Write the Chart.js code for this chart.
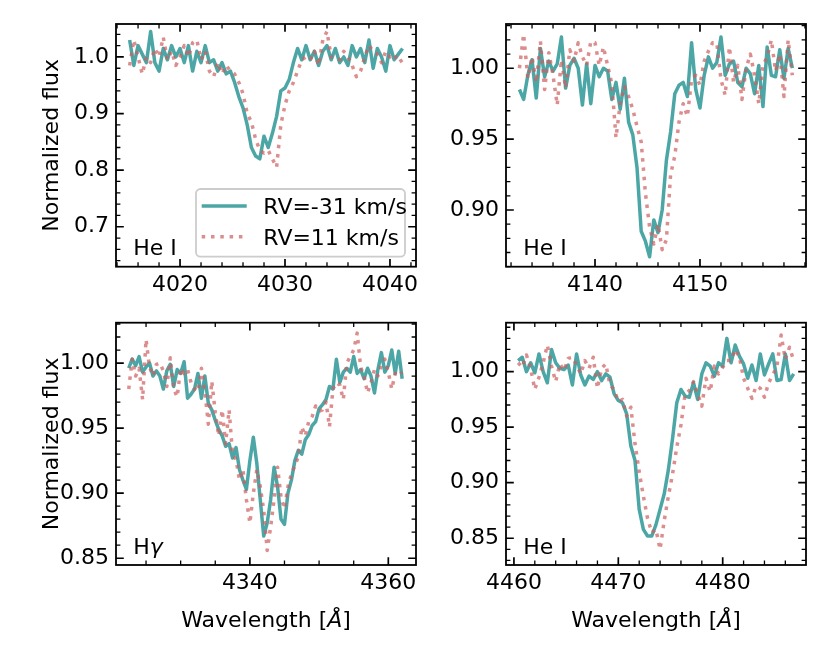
<!DOCTYPE html>
<html lang="en">
<head>
<meta charset="UTF-8">
<title>He I and Hγ line profiles at two radial velocities</title>
<script src="https://cdn.jsdelivr.net/npm/chart.js@4.4.1/dist/chart.umd.min.js"></script>
<style>
  html, body { margin: 0; padding: 0; background: #fff; }
  #figure { position: relative; width: 830px; height: 664px; overflow: hidden; background: #fff; }
  .panel { position: absolute; }
</style>
</head>
<body>
<div id="figure">
  <div class="panel" id="w1"><canvas id="c1"></canvas></div>
  <div class="panel" id="w2"><canvas id="c2"></canvas></div>
  <div class="panel" id="w3"><canvas id="c3"></canvas></div>
  <div class="panel" id="w4"><canvas id="c4"></canvas></div>
</div>
<script>
// ---- data ----
// He I 4026
const WL_4026 = [4015.2, 4015.6, 4016.0, 4016.4, 4016.8, 4017.2, 4017.6, 4018.0, 4018.4, 4018.8,
  4019.2, 4019.6, 4020.0, 4020.4, 4020.8, 4021.2, 4021.6, 4022.0, 4022.4, 4022.8,
  4023.2, 4023.6, 4024.0, 4024.4, 4024.8, 4025.2, 4025.6, 4026.0, 4026.4, 4026.8,
  4027.2, 4027.6, 4028.0, 4028.4, 4028.8, 4029.2, 4029.6, 4030.0, 4030.4, 4030.8,
  4031.2, 4031.6, 4032.0, 4032.4, 4032.8, 4033.2, 4033.6, 4034.0, 4034.4, 4034.8,
  4035.2, 4035.6, 4036.0, 4036.4, 4036.8, 4037.2, 4037.6, 4038.0, 4038.4, 4038.8,
  4039.2, 4039.6, 4040.0, 4040.4, 4040.8, 4041.2];
const RVM31_4026 = [1.030, 0.985, 1.020, 1.005, 0.990, 1.045, 0.990, 0.975, 1.015, 0.995,
  1.020, 1.000, 1.015, 0.990, 1.020, 0.975, 1.010, 0.990, 1.020, 0.990,
  0.995, 0.975, 0.990, 0.970, 0.975, 0.955, 0.930, 0.910, 0.880, 0.840,
  0.825, 0.820, 0.860, 0.840, 0.865, 0.895, 0.940, 0.945, 0.960, 0.990,
  1.015, 0.995, 1.020, 0.995, 1.010, 0.985, 1.010, 1.020, 0.995, 1.015,
  0.990, 1.000, 0.985, 1.020, 1.000, 1.015, 0.990, 1.030, 0.980, 1.015,
  1.000, 0.975, 1.020, 0.995, 1.005, 1.015];
const RVP11_4026 = [0.985, 1.030, 1.000, 0.970, 1.000, 0.990, 1.015, 1.000, 1.035, 0.995,
  1.010, 0.985, 1.000, 1.020, 1.000, 1.025, 1.030, 0.995, 1.010, 0.975,
  0.965, 0.990, 0.970, 0.985, 0.975, 0.970, 0.955, 0.935, 0.900, 0.885,
  0.855, 0.835, 0.830, 0.835, 0.820, 0.805, 0.880, 0.915, 0.940, 0.955,
  0.975, 0.995, 1.000, 0.995, 1.010, 0.985, 1.030, 1.045, 1.000, 1.000,
  0.995, 1.010, 1.000, 0.985, 0.965, 0.975, 1.000, 1.020, 1.010, 1.005,
  0.990, 1.010, 1.000, 1.005, 0.990, 0.995];

// He I 4144
const WL_4144 = [4132.8, 4133.2, 4133.6, 4134.0, 4134.4, 4134.8, 4135.2, 4135.6, 4136.0, 4136.4,
  4136.8, 4137.2, 4137.6, 4138.0, 4138.4, 4138.8, 4139.2, 4139.6, 4140.0, 4140.4,
  4140.8, 4141.2, 4141.6, 4142.0, 4142.4, 4142.8, 4143.2, 4143.6, 4144.0, 4144.4,
  4144.8, 4145.2, 4145.6, 4146.0, 4146.4, 4146.8, 4147.2, 4147.6, 4148.0, 4148.4,
  4148.8, 4149.2, 4149.6, 4150.0, 4150.4, 4150.8, 4151.2, 4151.6, 4152.0, 4152.4,
  4152.8, 4153.2, 4153.6, 4154.0, 4154.4, 4154.8, 4155.2, 4155.6, 4156.0, 4156.4,
  4156.8, 4157.2, 4157.6, 4158.0, 4158.4, 4158.8];
const RVM31_4144 = [0.985, 0.978, 0.995, 1.006, 0.979, 1.014, 0.994, 1.005, 0.998, 1.003,
  1.022, 0.986, 1.002, 1.007, 1.000, 0.974, 1.003, 0.975, 1.002, 0.994,
  1.000, 0.998, 0.978, 0.990, 0.971, 0.993, 0.962, 0.953, 0.930, 0.885,
  0.878, 0.867, 0.893, 0.884, 0.900, 0.935, 0.955, 0.982, 0.988, 0.990,
  0.980, 1.018, 0.985, 0.972, 0.995, 1.008, 1.000, 1.004, 1.022, 0.995,
  1.003, 1.005, 0.990, 0.987, 1.000, 0.996, 0.982, 1.002, 0.973, 1.015,
  0.995, 0.994, 1.013, 0.993, 1.014, 1.000];
const RVP11_4144 = [1.000, 1.024, 0.993, 1.008, 0.990, 1.019, 0.985, 1.011, 0.995, 0.974,
  1.006, 0.986, 1.013, 1.005, 1.018, 1.008, 1.002, 1.019, 1.018, 1.002,
  1.015, 1.002, 0.989, 0.951, 0.975, 0.987, 0.980, 0.971, 0.959, 0.948,
  0.912, 0.888, 0.876, 0.890, 0.872, 0.879, 0.925, 0.938, 0.962, 0.975,
  0.966, 0.992, 0.995, 0.988, 1.005, 1.012, 1.018, 1.018, 0.992, 0.981,
  1.015, 0.990, 1.002, 0.978, 1.000, 1.010, 0.995, 0.975, 1.002, 1.008,
  1.020, 0.998, 1.010, 0.980, 1.020, 0.995];

// H gamma
const WL_4340 = [4322.5, 4323.0, 4323.5, 4324.0, 4324.5, 4325.0, 4325.5, 4326.0, 4326.5, 4327.0,
  4327.5, 4328.0, 4328.5, 4329.0, 4329.5, 4330.0, 4330.5, 4331.0, 4331.5, 4332.0,
  4332.5, 4333.0, 4333.5, 4334.0, 4334.5, 4335.0, 4335.5, 4336.0, 4336.5, 4337.0,
  4337.5, 4338.0, 4338.5, 4339.0, 4339.5, 4340.0, 4340.5, 4341.0, 4341.5, 4342.0,
  4342.5, 4343.0, 4343.5, 4344.0, 4344.5, 4345.0, 4345.5, 4346.0, 4346.5, 4347.0,
  4347.5, 4348.0, 4348.5, 4349.0, 4349.5, 4350.0, 4350.5, 4351.0, 4351.5, 4352.0,
  4352.5, 4353.0, 4353.5, 4354.0, 4354.5, 4355.0, 4355.5, 4356.0, 4356.5, 4357.0,
  4357.5, 4358.0, 4358.5, 4359.0, 4359.5, 4360.0, 4360.5, 4361.0, 4361.5, 4362.0];
const RVM31_4340 = [0.996, 1.003, 0.998, 1.005, 0.993, 0.997, 1.000, 0.990, 0.994, 0.990,
  0.980, 0.994, 0.999, 0.982, 0.995, 0.992, 1.001, 0.973, 0.976, 0.980,
  0.992, 0.973, 0.990, 0.969, 0.964, 0.956, 0.949, 0.944, 0.936, 0.938,
  0.927, 0.935, 0.918, 0.910, 0.903, 0.925, 0.943, 0.923, 0.895, 0.867,
  0.877, 0.895, 0.920, 0.905, 0.880, 0.876, 0.900, 0.910, 0.925, 0.933,
  0.930, 0.941, 0.945, 0.952, 0.955, 0.965, 0.968, 0.972, 0.982, 0.980,
  1.003, 0.985, 0.993, 0.996, 0.993, 1.005, 0.992, 0.995, 0.988, 0.996,
  0.990, 0.977, 0.995, 1.008, 0.993, 0.998, 1.010, 0.992, 1.009, 0.988];
const RVP11_4340 = [0.980, 1.003, 0.990, 0.996, 0.972, 1.018, 0.997, 0.990, 0.999, 1.000,
  0.994, 0.982, 1.004, 0.980, 0.974, 0.996, 0.992, 0.995, 0.985, 0.980,
  0.978, 0.996, 0.978, 0.953, 0.986, 0.962, 0.944, 0.964, 0.938, 0.964,
  0.930, 0.926, 0.910, 0.918, 0.895, 0.877, 0.900, 0.918, 0.905, 0.887,
  0.856, 0.874, 0.895, 0.920, 0.897, 0.888, 0.905, 0.915, 0.921, 0.928,
  0.951, 0.944, 0.955, 0.959, 0.967, 0.963, 0.964, 0.970, 0.951, 0.980,
  0.985, 0.983, 0.972, 1.000, 1.005, 1.010, 1.023, 0.997, 0.990, 0.977,
  0.985, 0.995, 0.990, 0.998, 1.003, 0.993, 0.980, 0.992, 0.990, 0.993];

// He I 4471
const WL_4471 = [4460.4, 4460.8, 4461.2, 4461.6, 4462.0, 4462.4, 4462.8, 4463.2, 4463.6, 4464.0,
  4464.4, 4464.8, 4465.2, 4465.6, 4466.0, 4466.4, 4466.8, 4467.2, 4467.6, 4468.0,
  4468.4, 4468.8, 4469.2, 4469.6, 4470.0, 4470.4, 4470.8, 4471.2, 4471.6, 4472.0,
  4472.4, 4472.8, 4473.2, 4473.6, 4474.0, 4474.4, 4474.8, 4475.2, 4475.6, 4476.0,
  4476.4, 4476.8, 4477.2, 4477.6, 4478.0, 4478.4, 4478.8, 4479.2, 4479.6, 4480.0,
  4480.4, 4480.8, 4481.2, 4481.6, 4482.0, 4482.4, 4482.8, 4483.2, 4483.6, 4484.0,
  4484.4, 4484.8, 4485.2, 4485.6, 4486.0, 4486.4, 4486.8];
const RVM31_4471 = [1.010, 1.013, 1.000, 1.008, 0.999, 1.016, 1.000, 0.990, 1.020, 1.008,
  1.003, 1.002, 1.006, 0.988, 1.016, 0.997, 0.988, 0.996, 0.993, 1.000,
  0.992, 0.998, 0.995, 0.980, 0.974, 0.972, 0.962, 0.933, 0.920, 0.876,
  0.858, 0.852, 0.852, 0.862, 0.876, 0.890, 0.912, 0.940, 0.972, 0.984,
  0.978, 0.977, 0.990, 0.975, 0.998, 1.008, 1.005, 0.996, 1.008, 1.005,
  1.030, 1.008, 1.024, 1.014, 1.007, 0.994, 1.006, 0.992, 1.016, 0.997,
  1.007, 1.016, 0.992, 0.993, 1.016, 0.992, 0.998];
const RVP11_4471 = [1.008, 1.004, 1.015, 1.003, 0.984, 0.995, 1.008, 1.024, 1.005, 0.991,
  1.007, 1.001, 1.012, 1.013, 1.006, 0.998, 1.010, 1.003, 1.013, 0.985,
  1.003, 1.007, 0.988, 0.984, 0.973, 0.975, 0.960, 0.968, 0.935, 0.910,
  0.888, 0.868, 0.855, 0.858, 0.840, 0.866, 0.888, 0.908, 0.932, 0.952,
  0.980, 0.983, 0.991, 0.980, 0.969, 0.994, 0.982, 1.005, 0.998, 1.004,
  1.010, 1.010, 1.020, 1.013, 0.994, 0.985, 0.976, 0.987, 0.985, 0.977,
  0.990, 0.997, 1.005, 1.033, 1.011, 1.022, 1.010];

// tick values and labels
const XT_4026 = [4020, 4030, 4040];
const XL_4026 = ['4020', '4030', '4040'];
const XT_4144 = [4140, 4150];
const XL_4144 = ['4140', '4150'];
const XT_4340 = [4340, 4360];
const XL_4340 = ['4340', '4360'];
const XT_4471 = [4460, 4470, 4480];
const XL_4471 = ['4460', '4470', '4480'];
const YT_4026 = [0.7, 0.8, 0.9, 1.0];
const YL_4026 = ['0.7', '0.8', '0.9', '1.0'];
const YT_4144 = [0.90, 0.95, 1.00];
const YL_4144 = ['0.90', '0.95', '1.00'];
const YT_LOW = [0.85, 0.90, 0.95, 1.00];
const YL_LOW = ['0.85', '0.90', '0.95', '1.00'];

const SERIES_NAMES = ['RV=-31 km/s', 'RV=11 km/s'];

// ---- styling ----
const TEAL = 'rgba(0,128,128,0.7)';
const PINK = 'rgba(205,92,92,0.7)';
const LW = 3.5;
const DOTS = [3.5, 5.8];
const FONT = "'DejaVu Sans', sans-serif";
const FS = 22;
const YW = 60;   // room for y tick labels
const XH = 30;   // room for x tick labels

Chart.defaults.font.family = FONT;
Chart.defaults.font.size = FS;
Chart.defaults.color = '#000';

const panels = [
  { id: 'c1', wrap: 'w1', box: [0, 0, 440, 300], frame: [116, 24, 416, 266.7],
    wl: WL_4026, a: RVM31_4026, b: RVP11_4026,
    x: [4013.9, 4042.48], xt: XT_4026, xl: XL_4026, xm: 2,
    y: [0.6294, 1.0582], yt: YT_4026, yl: YL_4026, ym: 0.02,
    note: [{ t: 'He I' }], ylabel: true, xlabel: false, legend: true },
  { id: 'c2', wrap: 'w2', box: [440, 0, 390, 300], frame: [506, 24, 806, 266.7],
    wl: WL_4144, a: RVM31_4144, b: RVP11_4144,
    x: [4131.52, 4160.1], xt: XT_4144, xl: XL_4144, xm: 2,
    y: [0.8600, 1.0312], yt: YT_4144, yl: YL_4144, ym: 0.01,
    note: [{ t: 'He I' }], ylabel: false, xlabel: false, legend: false },
  { id: 'c3', wrap: 'w3', box: [0, 300, 440, 364], frame: [116, 322.7, 416, 565],
    wl: WL_4340, a: RVM31_4340, b: RVP11_4340,
    x: [4320.66, 4364.0], xt: XT_4340, xl: XL_4340, xm: 5,
    y: [0.8448, 1.0310], yt: YT_LOW, yl: YL_LOW, ym: 0.01,
    note: [{ t: 'H' }, { t: 'γ', it: true }], ylabel: true, xlabel: true, legend: false },
  { id: 'c4', wrap: 'w4', box: [440, 300, 390, 364], frame: [506, 322.7, 806, 565],
    wl: WL_4471, a: RVM31_4471, b: RVP11_4471,
    x: [4459.24, 4487.98], xt: XT_4471, xl: XL_4471, xm: 2,
    y: [0.8259, 1.0441], yt: YT_LOW, yl: YL_LOW, ym: 0.01,
    note: [{ t: 'He I' }], ylabel: false, xlabel: true, legend: false }
];

function minorValues(min, max, step, majors) {
  const out = [];
  for (let k = Math.ceil(min / step - 1e-9); k * step <= max + 1e-9; k++) {
    const v = k * step;
    if (!majors.some(m => Math.abs(m - v) < step / 10)) out.push(v);
  }
  return out;
}

function drawTicks(ctx, area, scale, values, len, horizontal) {
  ctx.beginPath();
  values.forEach(v => {
    const p = scale.getPixelForValue(v);
    if (horizontal) {
      ctx.moveTo(p, area.bottom); ctx.lineTo(p, area.bottom - len);
      ctx.moveTo(p, area.top); ctx.lineTo(p, area.top + len);
    } else {
      ctx.moveTo(area.left, p); ctx.lineTo(area.left + len, p);
      ctx.moveTo(area.right, p); ctx.lineTo(area.right - len, p);
    }
  });
  ctx.stroke();
}

// draws text made of regular / italic pieces; align 'left' or 'center'
function drawRich(ctx, parts, x, y, align) {
  const fontOf = p => (p.it ? 'italic ' : '') + FS + 'px ' + FONT;
  let total = 0;
  parts.forEach(p => { ctx.font = fontOf(p); total += ctx.measureText(p.t).width; });
  let cx = align === 'center' ? x - total / 2 : x;
  ctx.textAlign = 'left';
  ctx.textBaseline = 'alphabetic';
  parts.forEach(p => {
    ctx.font = fontOf(p);
    ctx.fillText(p.t, cx, y);
    cx += ctx.measureText(p.t).width;
  });
}

function decoPlugin(p) {
  const ox = p.box[0], oy = p.box[1];
  return {
    id: 'deco',
    beforeDatasetsDraw(chart) {
      const { ctx, chartArea: area, scales } = chart;
      ctx.save();
      ctx.strokeStyle = '#000';
      ctx.lineWidth = 1.7;
      drawTicks(ctx, area, scales.x, p.xt, 7.8, true);
      drawTicks(ctx, area, scales.y, p.yt, 7.8, false);
      ctx.lineWidth = 1.3;
      drawTicks(ctx, area, scales.x, minorValues(p.x[0], p.x[1], p.xm, p.xt), 4.4, true);
      drawTicks(ctx, area, scales.y, minorValues(p.y[0], p.y[1], p.ym, p.yt), 4.4, false);
      ctx.restore();
    },
    afterDatasetsDraw(chart) {
      const { ctx, chartArea: area } = chart;
      ctx.save();
      ctx.strokeStyle = '#000';
      ctx.lineWidth = 1.8;
      ctx.strokeRect(area.left, area.top, area.right - area.left, area.bottom - area.top);
      ctx.restore();
    },
    afterDraw(chart) {
      const { ctx, chartArea: area } = chart;
      ctx.save();
      ctx.fillStyle = '#000';
      drawRich(ctx, p.note, area.left + 17.3, area.bottom - 11.5, 'left');
      if (p.xlabel) {
        drawRich(ctx, [{ t: 'Wavelength [' }, { t: 'Å', it: true }, { t: ']' }],
          (area.left + area.right) / 2, 626.5 - oy, 'center');
      }
      if (p.ylabel) {
        ctx.save();
        ctx.translate(58.3 - ox, (area.top + area.bottom) / 2);
        ctx.rotate(-Math.PI / 2);
        drawRich(ctx, [{ t: 'Normalized flux' }], 0, 0, 'center');
        ctx.restore();
      }
      if (p.legend) {
        const ds = chart.data.datasets;
        ctx.beginPath();
        ctx.roundRect(196 - ox, 189 - oy, 209, 67.7, 4.4);
        ctx.fillStyle = 'rgba(255,255,255,0.8)';
        ctx.fill();
        ctx.strokeStyle = '#cccccc';
        ctx.lineWidth = 1.8;
        ctx.stroke();
        const rows = [{ d: ds[1], y: 206 }, { d: ds[0], y: 236.7 }];
        rows.forEach(r => {
          ctx.beginPath();
          ctx.strokeStyle = r.d.borderColor;
          ctx.lineWidth = r.d.borderWidth;
          ctx.setLineDash(r.d.borderDash || []);
          ctx.moveTo(201.7 - ox, r.y - oy);
          ctx.lineTo(246.7 - ox, r.y - oy);
          ctx.stroke();
          ctx.setLineDash([]);
          ctx.fillStyle = '#000';
          drawRich(ctx, [{ t: r.d.label }], 263.3 - ox, r.y + 8 - oy, 'left');
        });
      }
      ctx.restore();
    }
  };
}

function makePanel(p) {
  const wrap = document.getElementById(p.wrap);
  wrap.style.left = p.box[0] + 'px';
  wrap.style.top = p.box[1] + 'px';
  wrap.style.width = p.box[2] + 'px';
  wrap.style.height = p.box[3] + 'px';
  const pad = {
    left: p.frame[0] - p.box[0] - YW,
    top: p.frame[1] - p.box[1],
    right: p.box[0] + p.box[2] - p.frame[2],
    bottom: p.box[1] + p.box[3] - p.frame[3] - XH
  };
  const pts = ys => p.wl.map((w, i) => ({ x: w, y: ys[i] }));
  new Chart(document.getElementById(p.id), {
    type: 'line',
    data: {
      datasets: [
        { label: SERIES_NAMES[1], data: pts(p.b), borderColor: PINK, borderWidth: LW,
          borderDash: DOTS, order: 0 },
        { label: SERIES_NAMES[0], data: pts(p.a), borderColor: TEAL, borderWidth: LW, order: 1 }
      ]
    },
    options: {
      responsive: true,
      maintainAspectRatio: false,
      animation: false,
      events: [],
      layout: { padding: pad },
      plugins: { legend: { display: false }, tooltip: { enabled: false } },
      elements: {
        point: { radius: 0 },
        line: { tension: 0, borderJoinStyle: 'round', fill: false }
      },
      scales: {
        x: {
          type: 'linear', min: p.x[0], max: p.x[1],
          grid: { display: false, drawTicks: false }, border: { display: false },
          ticks: { padding: 5, maxRotation: 0, autoSkip: false, color: '#000',
            callback: (v, i) => p.xl[i] },
          afterBuildTicks: s => { s.ticks = p.xt.map(v => ({ value: v })); },
          afterFit: s => { s.height = XH; s.paddingLeft = 0; s.paddingRight = 0; }
        },
        y: {
          type: 'linear', min: p.y[0], max: p.y[1],
          grid: { display: false, drawTicks: false }, border: { display: false },
          ticks: { padding: 7, autoSkip: false, color: '#000',
            callback: (v, i) => p.yl[i] },
          afterBuildTicks: s => { s.ticks = p.yt.map(v => ({ value: v })); },
          afterFit: s => { s.width = YW; s.paddingTop = 0; s.paddingBottom = 0; }
        }
      }
    },
    plugins: [decoPlugin(p)]
  });
}

function init() {
  if (typeof Chart === 'undefined') { setTimeout(init, 50); return; }
  panels.forEach(makePanel);
}
document.addEventListener('DOMContentLoaded', init);
</script>
</body>
</html>
